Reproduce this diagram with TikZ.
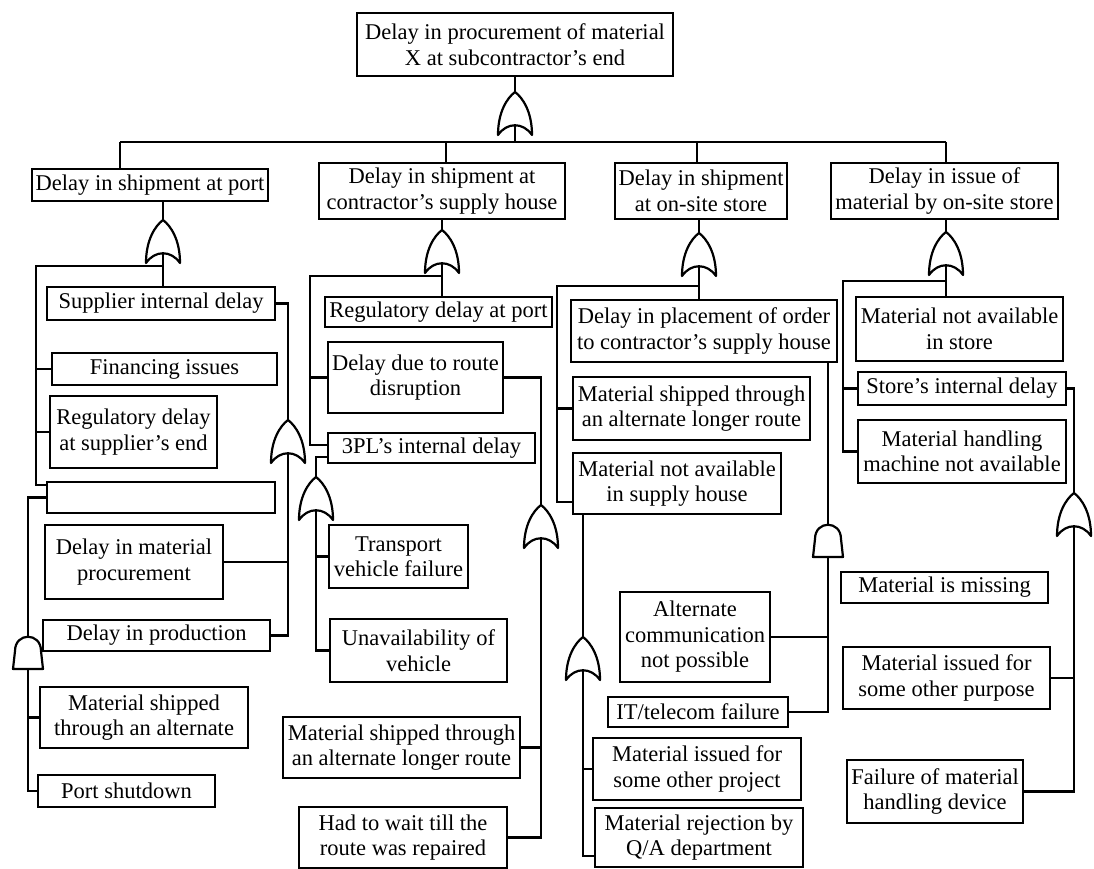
\documentclass[tikz,border=0pt]{standalone}
\usepackage{fontspec}
\setmainfont{Liberation Serif}
\newcommand{\fsz}{\fontsize{22.5}{25.5}\selectfont}
\tikzset{
  bx/.style={draw, line width=2.2pt, fill=white, align=center, inner sep=1pt, font=\fsz},
  sz/.style 2 args={minimum width=#1pt, minimum height=#2pt},
  ln/.style={line width=2.2pt},
  gate/.style={draw, line width=2.2pt, fill=white, line join=round},
  orgate/.pic={
    \draw[gate] (0,0) .. controls (8,6) and (17,20) .. (17,43)
      .. controls (8,30) and (-8,30) .. (-17,43)
      .. controls (-17,20) and (-8,6) .. (0,0) -- cycle;
    \coordinate (-top) at (0,0);
    \coordinate (-in) at (0,33);
  },
  andgate/.pic={
    \draw[gate] (-15,32) -- (-13,14) .. controls (-13,-5) and (13,-5) .. (13,14)
      -- (15,32) -- cycle;
    \coordinate (-top) at (0,0);
    \coordinate (-in) at (0,32);
  }
}
\begin{document}
\begin{tikzpicture}[x=1pt,y=-1pt]
\fill[white] (0,0) rectangle (1094,869);
\useasboundingbox (0,0) rectangle (1094,869);

% ---------- boxes ----------
\node[bx, sz={316}{63}] (T) at (515,44.5) {Delay in procurement of material\\X at subcontractor’s end};

\node[bx, sz={236}{32}] (A) at (150,185) {Delay in shipment at port};
\node[bx, sz={246}{56}] (B) at (442,191) {Delay in shipment at\\contractor’s supply house};
\node[bx, sz={172}{56}] (C) at (701,191) {Delay in shipment\\at on-site store};
\node[bx, sz={227}{56}] (D) at (944.5,191) {Delay in issue of\\material by on-site store};

% column A
\node[bx, sz={228}{33}] (A1) at (161,303.5) {Supplier internal delay};
\node[bx, sz={225}{32}] (A2) at (164.5,369) {Financing issues};
\node[bx, sz={167}{72}] (A3) at (133.5,432) {Regulatory delay\\at supplier’s end};
\node[bx, sz={228}{31}] (E0) at (161,497.5) {};
\node[bx, sz={178}{74}] (A4) at (134,562) {Delay in material\\procurement};
\node[bx, sz={227}{31}] (A5) at (156.5,635.5) {Delay in production};
\node[bx, sz={208}{61}] (A6) at (144,717.5) {Material shipped\\through an alternate};
\node[bx, sz={177}{32}] (A7) at (126.5,791) {Port shutdown};

% column B
\node[bx, sz={227}{30}] (B1) at (438.5,312) {Regulatory delay at port};
\node[bx, sz={175}{71}] (B2) at (415.5,377.5) {Delay due to route\\disruption};
\node[bx, sz={207}{30}] (B3) at (431.5,448) {3PL’s internal delay};
\node[bx, sz={139}{63}] (B4) at (398.5,556.5) {Transport\\vehicle failure};
\node[bx, sz={177}{63}] (B5) at (418.5,650.5) {Unavailability of\\vehicle};
\node[bx, sz={237}{61}] (B6) at (401.5,747.5) {Material shipped through\\an alternate longer route};
\node[bx, sz={208}{61}] (B7) at (403,837.5) {Had to wait till the\\route was repaired};

% column C
\node[bx, sz={266}{62}] (C1) at (704,331) {Delay in placement of order\\to contractor’s supply house};
\node[bx, sz={237}{63}] (C2) at (691.5,408.5) {Material shipped through\\an alternate longer route};
\node[bx, sz={208}{61}] (C3) at (677,483.5) {Material not available\\in supply house};
\node[bx, sz={150}{90}] (C4) at (695,637) {Alternate\\communication\\not possible};
\node[bx, sz={180}{30}] (C5) at (698,712) {IT/telecom failure};
\node[bx, sz={208}{62}] (C6) at (697,769) {Material issued for\\some other project};
\node[bx, sz={208}{59}] (C7) at (699,837.5) {Material rejection by\\Q/A department};

% column D
\node[bx, sz={207}{64}] (D1) at (959.5,329) {Material not available\\in store};
\node[bx, sz={208}{33}] (D2) at (962,388.5) {Store’s internal delay};
\node[bx, sz={208}{63}] (D3) at (962,451.5) {Material handling\\machine not available};
\node[bx, sz={207}{31}] (D4) at (944.5,587.5) {Material is missing};
\node[bx, sz={207}{62}] (D5) at (946.5,678) {Material issued for\\some other purpose};
\node[bx, sz={176}{63}] (D6) at (935,791.5) {Failure of material\\handling device};

% ---------- gates ----------
\pic (G0) at (515,92) {orgate};
\pic (GA) at (163,220) {orgate};
\pic (GB) at (442,230) {orgate};
\pic (GC) at (699,233) {orgate};
\pic (GD) at (946,232) {orgate};
\pic (G1) at (288,420) {orgate};
\pic (G2) at (316,477) {orgate};
\pic (G3) at (541,505) {orgate};
\pic (GC2) at (583,637) {orgate};
\pic (GD2) at (1074,493) {orgate};
\pic (GA2) at (28,637) {andgate};
\pic (GC3) at (828,525) {andgate};

% ---------- junction coordinates ----------
\coordinate (busA) at (120,142);
\coordinate (busB) at (446,142);
\coordinate (busC) at (697,142);
\coordinate (busD) at (946,142);
\coordinate (jA) at (36,266);
\coordinate (jA2) at (36,485);
\coordinate (jB) at (310,276);
\coordinate (b3a) at ([yshift=3pt]B3.west);
\coordinate (b3b) at ([yshift=-9pt]B3.west);
\coordinate (jC) at (557,286);
\coordinate (jC2) at (557,502);
\coordinate (jC7) at (583,856);
\coordinate (jD) at (843,281);

% ---------- connectors ----------
% top
\draw[ln] (T.south) -- (G0-top);
\draw[ln] (G0-in) -- (G0-in |- busA);
\draw[ln] (busA) -- (busD);
\draw[ln] (busA) -- (busA |- A.north);
\draw[ln] (busB) -- (busB |- B.north);
\draw[ln] (busC) -- (busC |- C.north);
\draw[ln] (busD) -- (busD |- D.north);

% column A
\draw[ln] (GA-top |- A.south) -- (GA-top);
\draw[ln] (GA-in) -- (GA-in |- A1.north);
\draw[ln] (GA-in |- jA) -- (jA) -- (jA2) -- (jA2 -| E0.west);
\draw[ln] (A2.west) -- (A2.west -| jA);
\draw[ln] (A3.west) -- (A3.west -| jA);
\draw[ln] (A1.east) -- (A1.east -| G1-top) -- (G1-top);
\draw[ln] (G1-in) -- (G1-in |- A5.east) -- (A5.east);
\draw[ln] (A4.east) -- (A4.east -| G1-in);
\draw[ln] (E0.west) -- (E0.west -| GA2-top) -- (GA2-top);
\draw[ln] (GA2-in) -- (GA2-in |- A7.west) -- (A7.west);
\draw[ln] (A6.west) -- (A6.west -| GA2-in);

% column B
\draw[ln] (GB-top |- B.south) -- (GB-top);
\draw[ln] (GB-in) -- (GB-in |- B1.north);
\draw[ln] (GB-in |- jB) -- (jB) -- (jB |- b3a) -- (b3a);
\draw[ln] (B2.west) -- (B2.west -| jB);
\draw[ln] (b3b) -- (b3b -| G2-top) -- (G2-top);
\draw[ln] (G2-in) -- (G2-in |- B5.west) -- (B5.west);
\draw[ln] (B4.west) -- (B4.west -| G2-in);
\draw[ln] (B2.east) -- (B2.east -| G3-top) -- (G3-top);
\draw[ln] (G3-in) -- (G3-in |- B7.east) -- (B7.east);
\draw[ln] (B6.east) -- (B6.east -| G3-in);

% column C
\draw[ln] (GC-top |- C.south) -- (GC-top);
\draw[ln] (GC-in) -- (GC-in |- C1.north);
\draw[ln] (GC-in |- jC) -- (jC) -- (jC2) -- (jC2 -| C3.west);
\draw[ln] (C2.west) -- (C2.west -| jC);
\draw[ln] (GC2-top |- C3.south) -- (GC2-top);
\draw[ln] (GC2-in) -- (jC7) -- (jC7 -| C7.west);
\draw[ln] (C6.west) -- (C6.west -| GC2-in);
\draw[ln] (GC3-top |- C1.south) -- (GC3-top);
\draw[ln] (GC3-in) -- (GC3-in |- C5.east) -- (C5.east);
\draw[ln] (C4.east) -- (C4.east -| GC3-in);

% column D
\draw[ln] (GD-top |- D.south) -- (GD-top);
\draw[ln] (GD-in) -- (GD-in |- D1.north);
\draw[ln] (GD-in |- jD) -- (jD) -- (jD |- D3.west) -- (D3.west);
\draw[ln] (D2.west) -- (D2.west -| jD);
\draw[ln] (D2.east) -- (D2.east -| GD2-top) -- (GD2-top);
\draw[ln] (GD2-in) -- (GD2-in |- D6.east) -- (D6.east);
\draw[ln] (D5.east) -- (D5.east -| GD2-in);
\end{tikzpicture}
\end{document}
